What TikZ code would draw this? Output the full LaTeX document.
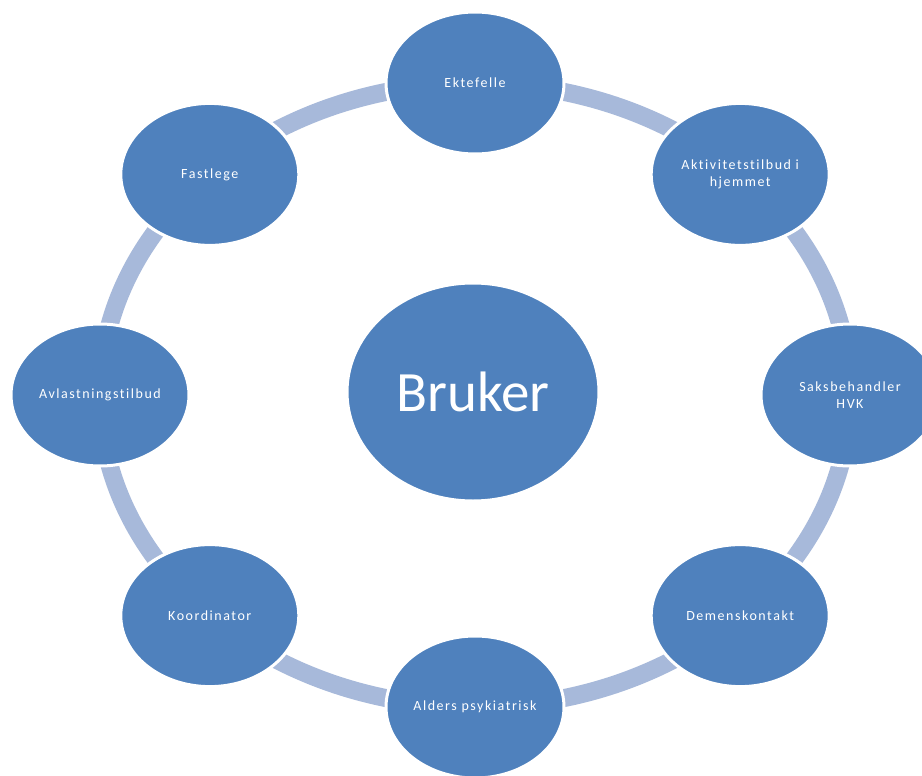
\documentclass[tikz,border=0pt]{standalone}
\usepackage{fontspec}
\setmainfont{Carlito}
\newfontfamily\smallfnt[LetterSpace=11,RawFeature=-liga]{Carlito}
\usetikzlibrary{shapes.geometric}
\definecolor{nodeblue}{RGB}{79,129,189}
\definecolor{ringblue}{RGB}{167,185,218}
\begin{document}
\begin{tikzpicture}[x=1pt,y=-1pt,
  member/.style={ellipse, draw=white, line width=3pt, fill=nodeblue, minimum width=178pt, minimum height=142pt, inner sep=0pt, text=white, font=\smallfnt\fontsize{14}{17}\selectfont, align=center},
  hub/.style={ellipse, draw=white, line width=3pt, fill=nodeblue, minimum width=252pt, minimum height=218pt, inner sep=0pt, text=white, font=\fontsize{57}{64}\selectfont},
  ringarc/.style={draw=ringblue, line width=18pt}]
\useasboundingbox (0,0) rectangle (922,776);
% ring members, placed on an ellipse centred at (475,395), radii 375 x 312
\coordinate (k0) at (475,83);
\coordinate (k1) at (740.2,174.4);
\coordinate (k2) at (850,395);
\coordinate (k3) at (740.2,615.6);
\coordinate (k4) at (475,707);
\coordinate (k5) at (209.8,615.6);
\coordinate (k6) at (100,395);
\coordinate (k7) at (209.8,174.4);
% connectors (drawn first, behind the nodes)
\draw[ringarc] (k0) arc[start angle=270, end angle=315, x radius=375, y radius=312];
\draw[ringarc] (k1) arc[start angle=315, end angle=360, x radius=375, y radius=312];
\draw[ringarc] (k2) arc[start angle=0, end angle=45, x radius=375, y radius=312];
\draw[ringarc] (k3) arc[start angle=45, end angle=90, x radius=375, y radius=312];
\draw[ringarc] (k4) arc[start angle=90, end angle=135, x radius=375, y radius=312];
\draw[ringarc] (k5) arc[start angle=135, end angle=180, x radius=375, y radius=312];
\draw[ringarc] (k6) arc[start angle=180, end angle=225, x radius=375, y radius=312];
\draw[ringarc] (k7) arc[start angle=225, end angle=270, x radius=375, y radius=312];
% nodes
\node[member] (ektefelle) at (k0) {Ektefelle};
\node[member] (aktivitet) at (k1) {Aktivitetstilbud i\\hjemmet};
\node[member] (saks) at (k2) {Saksbehandler\\HVK};
\node[member] (demens) at (k3) {Demenskontakt};
\node[member] (alders) at (k4) {Alders psykiatrisk};
\node[member] (koord) at (k5) {Koordinator};
\node[member] (avlast) at (k6) {Avlastningstilbud};
\node[member] (fastlege) at (k7) {Fastlege};
\node[hub] (bruker) at (473,392) {Bruker};
\end{tikzpicture}
\end{document}
